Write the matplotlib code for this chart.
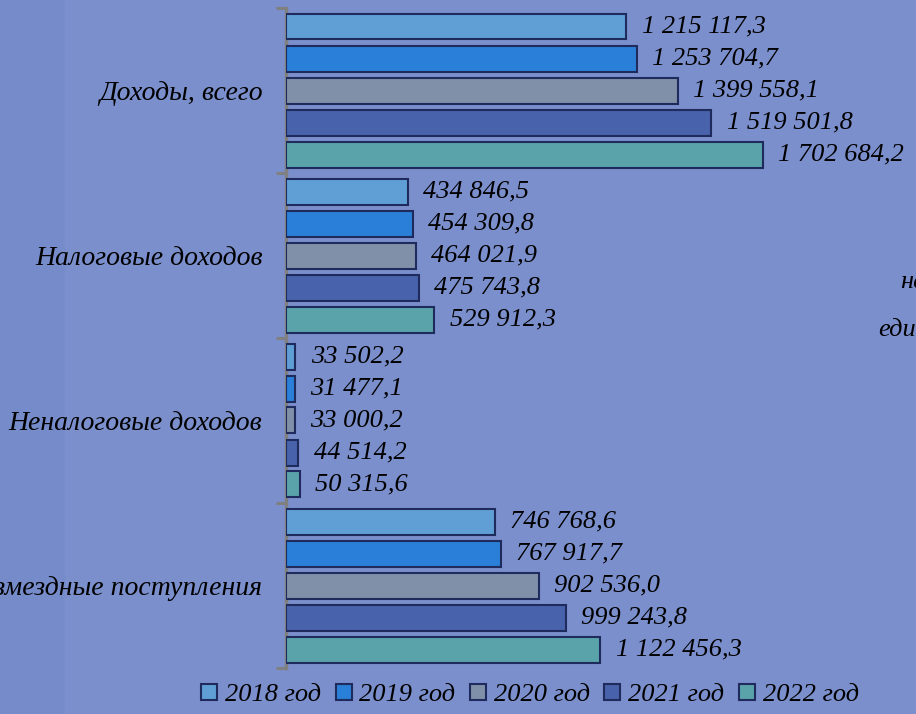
import matplotlib
matplotlib.use("Agg")
import matplotlib.pyplot as plt
from matplotlib.patches import Rectangle, Patch

categories = ["Доходы, всего", "Налоговые доходов", "Неналоговые доходов", "Безвозмездные поступления"]
years = ["2018 год", "2019 год", "2020 год", "2021 год", "2022 год"]
values = {
    "2018 год": [1215117.3, 434846.5, 33502.2, 746768.6],
    "2019 год": [1253704.7, 454309.8, 31477.1, 767917.7],
    "2020 год": [1399558.1, 464021.9, 33000.2, 902536.0],
    "2021 год": [1519501.8, 475743.8, 44514.2, 999243.8],
    "2022 год": [1702684.2, 529912.3, 50315.6, 1122456.3],
}
labels = {
    "2018 год": ["1 215 117,3", "434 846,5", "33 502,2", "746 768,6"],
    "2019 год": ["1 253 704,7", "454 309,8", "31 477,1", "767 917,7"],
    "2020 год": ["1 399 558,1", "464 021,9", "33 000,2", "902 536,0"],
    "2021 год": ["1 519 501,8", "475 743,8", "44 514,2", "999 243,8"],
    "2022 год": ["1 702 684,2", "529 912,3", "50 315,6", "1 122 456,3"],
}
colors = ["#5f9fd6", "#2a7fd8", "#8090a8", "#4863ac", "#5aa3aa"]
edge = "#1e2b5c"
bg = "#7b8fcc"

W, H = 916, 714
fig = plt.figure(figsize=(W / 100, H / 100), dpi=100, facecolor=bg)

# background band on the left
bgax = fig.add_axes([0, 0, 1, 1], zorder=-10)
bgax.set_axis_off()
bgax.set_xlim(0, W)
bgax.set_ylim(H, 0)
bgax.add_patch(Rectangle((0, 0), 65, H, facecolor="#768bc9", edgecolor="none"))

ax_left, ax_top, ax_bottom = 286, 8, 668
ax = fig.add_axes([ax_left / W, 1 - ax_bottom / H, (W - ax_left) / W, (ax_bottom - ax_top) / H], zorder=1)
ax.set_facecolor("none")

font = dict(family=["Liberation Serif", "DejaVu Serif"], style="italic")
px_per_group = (ax_bottom - ax_top) / len(categories)
pitch = 32 / px_per_group
bh = 26 / px_per_group

for k, yr in enumerate(years):
    for g, cat in enumerate(categories):
        yc = g + 0.5 + (k - 2) * pitch
        v = values[yr][g]
        ax.barh(yc, v, height=bh, color=colors[k], edgecolor=edge, linewidth=1.5, zorder=3)
        ax.annotate(labels[yr][g], xy=(v, yc), xytext=(11, 0), textcoords="offset points",
                    ha="left", va="center", fontsize=19, color="black", **font)

ax.set_xlim(0, (W - ax_left) / 280 * 1e6)
ax.set_ylim(len(categories), 0)
ax.set_xticks([])
ax.set_yticks(range(len(categories) + 1))
ax.set_yticklabels([])
ax.set_yticks([g + 0.5 for g in range(len(categories))], minor=True)
ax.set_yticklabels(categories, minor=True, fontsize=20, **font)
ax.tick_params(axis="y", which="major", length=7, width=2.2, color="#808080", direction="out")
ax.tick_params(axis="y", which="minor", length=0, pad=17)
for s in ["top", "right", "bottom"]:
    ax.spines[s].set_visible(False)
ax.spines["left"].set_color("#808080")
ax.spines["left"].set_linewidth(2.5)

fig.text(900 / W, 1 - 282 / H, "на", ha="left", va="center", fontsize=19, **font)
fig.text(878 / W, 1 - 330 / H, "еди", ha="left", va="center", fontsize=19, **font)

handles = [Patch(facecolor=c, edgecolor=edge, linewidth=1.5) for c in colors]
fig.legend(handles, years, loc="center", bbox_to_anchor=(530 / W, 1 - 695 / H), ncol=5,
           frameon=False, prop=dict(family="Liberation Serif", style="italic", size=19),
           handlelength=0.6, handleheight=0.6, handletextpad=0.3, columnspacing=0.55,
           borderaxespad=0, borderpad=0)

fig.savefig("out.png", dpi=100, facecolor=bg)
